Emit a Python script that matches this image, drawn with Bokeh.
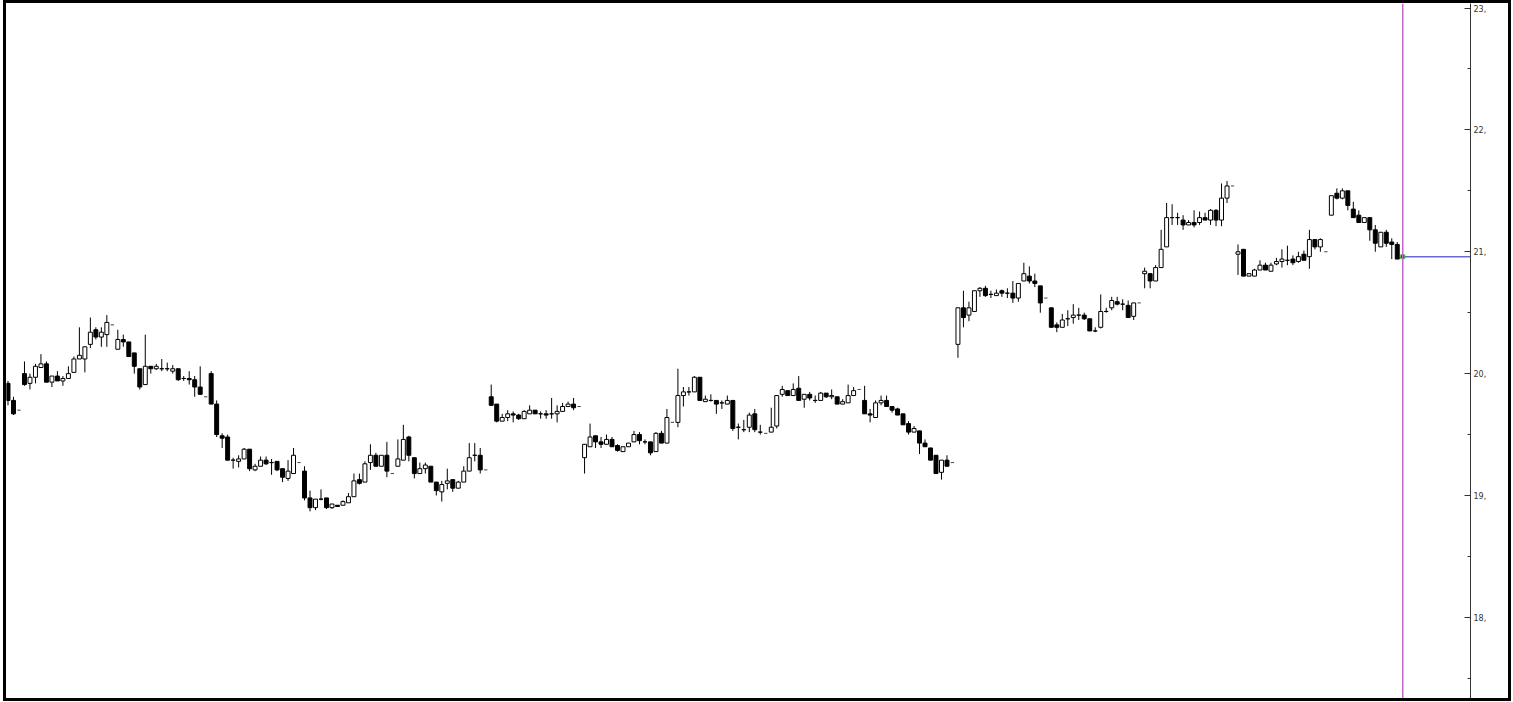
from bokeh.plotting import figure
from bokeh.models import ColumnDataSource, Range1d, FixedTicker, Span
from bokeh.embed import file_html
from bokeh.resources import INLINE

# ---------------- data ----------------
# bars per trading day (first and last day are partial)
bars_per_day = [2] + [16] * 14 + [14]

open_ = [
    19.92, 19.78,
    20.00, 19.92, 19.97, 20.05, 20.08, 19.93, 19.98, 19.94, 19.96, 20.01, 20.12, 20.12, 20.24, 20.36, 20.30, 20.32,
    20.20, 20.28, 20.26, 20.17, 20.04, 19.91, 20.06, 20.04, 20.04, 20.04, 20.02, 20.04, 19.96, 19.96, 19.95, 19.89,
    20.00, 19.75, 19.49, 19.48, 19.29, 19.28, 19.30, 19.38, 19.21, 19.24, 19.29, 19.27, 19.28, 19.22, 19.14, 19.18,
    19.20, 18.98, 18.90, 18.97, 18.98, 18.90, 18.92, 18.92, 18.94, 18.99, 19.13, 19.11, 19.27, 19.33, 19.24, 19.33,
    19.24, 19.29, 19.48, 19.31, 19.18, 19.22, 19.24, 19.11, 19.03, 19.10, 19.13, 19.06, 19.11, 19.20, 19.33, 19.33,
    19.81, 19.75, 19.61, 19.64, 19.67, 19.66, 19.63, 19.67, 19.70, 19.67, 19.67, 19.67, 19.67, 19.69, 19.73, 19.75,
    19.31, 19.40, 19.49, 19.44, 19.42, 19.46, 19.41, 19.36, 19.40, 19.44, 19.50, 19.44, 19.44, 19.36, 19.51, 19.43,
    19.60, 19.82, 19.85, 19.85, 19.97, 19.77, 19.78, 19.78, 19.76, 19.75, 19.78, 19.56, 19.54, 19.56, 19.67, 19.52,
    19.52, 19.57, 19.83, 19.86, 19.82, 19.88, 19.79, 19.83, 19.78, 19.78, 19.84, 19.81, 19.81, 19.75, 19.76, 19.82,
    19.78, 19.67, 19.64, 19.76, 19.78, 19.73, 19.71, 19.67, 19.59, 19.52, 19.53, 19.43, 19.39, 19.33, 19.19, 19.29,
    20.24, 20.54, 20.48, 20.51, 20.68, 20.70, 20.65, 20.64, 20.68, 20.66, 20.66, 20.62, 20.76, 20.80, 20.76, 20.72,
    20.54, 20.40, 20.38, 20.45, 20.46, 20.48, 20.48, 20.45, 20.35, 20.38, 20.51, 20.54, 20.59, 20.57, 20.56, 20.47,
    20.82, 20.82, 20.76, 20.87, 21.04, 21.28, 21.28, 21.26, 21.22, 21.24, 21.24, 21.28, 21.26, 21.34, 21.26, 21.44,
    20.98, 21.02, 20.80, 20.80, 20.85, 20.89, 20.84, 20.90, 20.92, 20.93, 20.94, 20.92, 20.98, 20.96, 21.10, 21.04,
    21.30, 21.48, 21.44, 21.50, 21.35, 21.30, 21.24, 21.28, 21.18, 21.04, 21.16, 21.08, 21.06, 20.95,
]
high = [
    19.94, 19.81,
    20.10, 20.00, 20.08, 20.16, 20.10, 19.98, 20.02, 19.98, 20.06, 20.14, 20.38, 20.22, 20.46, 20.38, 20.38, 20.48,
    20.36, 20.32, 20.26, 20.17, 20.04, 20.32, 20.06, 20.08, 20.12, 20.09, 20.07, 20.04, 19.98, 20.02, 19.98, 20.06,
    20.02, 19.78, 19.51, 19.50, 19.31, 19.33, 19.39, 19.38, 19.26, 19.32, 19.32, 19.30, 19.28, 19.22, 19.29, 19.39,
    19.24, 19.04, 18.97, 19.05, 18.98, 18.93, 18.92, 18.96, 19.02, 19.18, 19.18, 19.28, 19.42, 19.35, 19.33, 19.44,
    19.46, 19.58, 19.49, 19.31, 19.27, 19.27, 19.24, 19.11, 19.12, 19.22, 19.13, 19.12, 19.24, 19.43, 19.43, 19.39,
    19.91, 19.75, 19.67, 19.70, 19.69, 19.67, 19.70, 19.74, 19.70, 19.69, 19.70, 19.80, 19.74, 19.76, 19.77, 19.80,
    19.42, 19.59, 19.49, 19.48, 19.50, 19.48, 19.42, 19.40, 19.43, 19.53, 19.52, 19.46, 19.44, 19.52, 19.53, 19.71,
    20.04, 19.89, 19.89, 19.98, 19.97, 19.82, 19.83, 19.78, 19.78, 19.82, 19.78, 19.59, 19.62, 19.68, 19.71, 19.58,
    19.72, 19.82, 19.90, 19.86, 19.92, 19.98, 19.83, 19.85, 19.82, 19.85, 19.84, 19.87, 19.81, 19.79, 19.91, 19.89,
    19.90, 19.71, 19.78, 19.82, 19.82, 19.73, 19.72, 19.67, 19.61, 19.57, 19.53, 19.46, 19.39, 19.33, 19.29, 19.33,
    20.54, 20.68, 20.59, 20.68, 20.71, 20.72, 20.68, 20.69, 20.69, 20.70, 20.76, 20.74, 20.91, 20.88, 20.82, 20.72,
    20.54, 20.42, 20.49, 20.52, 20.57, 20.54, 20.50, 20.45, 20.38, 20.65, 20.54, 20.63, 20.63, 20.61, 20.60, 20.58,
    20.87, 20.82, 20.89, 21.18, 21.40, 21.39, 21.32, 21.30, 21.26, 21.34, 21.33, 21.32, 21.35, 21.35, 21.56, 21.58,
    21.06, 21.02, 20.82, 20.86, 20.93, 20.91, 20.91, 20.95, 21.02, 21.05, 20.97, 21.00, 21.01, 21.18, 21.10, 21.11,
    21.46, 21.52, 21.52, 21.50, 21.41, 21.34, 21.28, 21.28, 21.22, 21.16, 21.18, 21.11, 21.08, 20.97,
]
low = [
    19.74, 19.66,
    19.90, 19.87, 19.92, 20.05, 19.93, 19.89, 19.94, 19.90, 19.96, 20.01, 20.12, 20.01, 20.21, 20.28, 20.22, 20.22,
    20.20, 20.22, 20.14, 20.00, 19.87, 19.91, 20.00, 20.03, 20.02, 20.02, 20.00, 19.94, 19.94, 19.91, 19.81, 19.83,
    19.75, 19.48, 19.39, 19.29, 19.22, 19.23, 19.30, 19.20, 19.20, 19.24, 19.25, 19.17, 19.20, 19.11, 19.12, 19.18,
    18.96, 18.87, 18.88, 18.96, 18.89, 18.89, 18.91, 18.92, 18.94, 18.99, 19.09, 19.11, 19.21, 19.24, 19.24, 19.15,
    19.24, 19.29, 19.28, 19.14, 19.18, 19.18, 19.11, 19.00, 18.95, 19.05, 19.03, 19.06, 19.11, 19.20, 19.28, 19.18,
    19.74, 19.60, 19.61, 19.61, 19.60, 19.62, 19.63, 19.67, 19.67, 19.63, 19.63, 19.63, 19.60, 19.69, 19.73, 19.70,
    19.18, 19.40, 19.39, 19.39, 19.42, 19.40, 19.36, 19.36, 19.40, 19.44, 19.42, 19.42, 19.33, 19.36, 19.43, 19.43,
    19.56, 19.73, 19.82, 19.85, 19.78, 19.77, 19.77, 19.67, 19.71, 19.75, 19.53, 19.46, 19.52, 19.52, 19.52, 19.50,
    19.52, 19.55, 19.81, 19.82, 19.82, 19.78, 19.72, 19.78, 19.76, 19.78, 19.80, 19.79, 19.75, 19.75, 19.76, 19.82,
    19.67, 19.60, 19.64, 19.74, 19.73, 19.68, 19.66, 19.58, 19.50, 19.52, 19.34, 19.40, 19.29, 19.18, 19.13, 19.24,
    20.13, 20.38, 20.43, 20.51, 20.63, 20.63, 20.62, 20.64, 20.63, 20.62, 20.58, 20.59, 20.76, 20.74, 20.71, 20.50,
    20.38, 20.34, 20.38, 20.39, 20.41, 20.44, 20.44, 20.35, 20.34, 20.37, 20.50, 20.52, 20.56, 20.52, 20.46, 20.44,
    20.70, 20.70, 20.76, 20.87, 21.04, 21.22, 21.22, 21.18, 21.22, 21.20, 21.22, 21.26, 21.22, 21.21, 21.21, 21.40,
    20.81, 20.80, 20.80, 20.80, 20.85, 20.85, 20.84, 20.89, 20.87, 20.89, 20.89, 20.91, 20.93, 20.86, 21.02, 21.00,
    21.30, 21.43, 21.43, 21.34, 21.28, 21.24, 21.24, 21.09, 21.00, 21.04, 21.04, 20.94, 20.94, 20.94,
]
close = [
    19.78, 19.67,
    19.91, 19.97, 20.06, 20.08, 19.93, 19.98, 19.94, 19.96, 20.00, 20.12, 20.15, 20.22, 20.34, 20.30, 20.34, 20.42,
    20.28, 20.26, 20.14, 20.06, 19.89, 20.06, 20.04, 20.06, 20.04, 20.04, 20.04, 19.95, 19.96, 19.95, 19.89, 19.83,
    19.75, 19.50, 19.47, 19.29, 19.29, 19.30, 19.38, 19.22, 19.24, 19.29, 19.26, 19.27, 19.21, 19.15, 19.20, 19.33,
    18.98, 18.90, 18.97, 18.97, 18.90, 18.93, 18.91, 18.95, 18.99, 19.12, 19.10, 19.26, 19.33, 19.24, 19.33, 19.20,
    19.30, 19.46, 19.33, 19.18, 19.22, 19.25, 19.11, 19.04, 19.09, 19.12, 19.06, 19.11, 19.20, 19.31, 19.33, 19.21,
    19.74, 19.61, 19.64, 19.67, 19.66, 19.63, 19.69, 19.70, 19.67, 19.67, 19.66, 19.67, 19.69, 19.73, 19.75, 19.72,
    19.42, 19.48, 19.44, 19.42, 19.46, 19.40, 19.37, 19.40, 19.43, 19.50, 19.45, 19.44, 19.35, 19.51, 19.43, 19.64,
    19.82, 19.85, 19.85, 19.97, 19.78, 19.79, 19.78, 19.75, 19.76, 19.78, 19.55, 19.56, 19.54, 19.66, 19.54, 19.52,
    19.56, 19.82, 19.87, 19.82, 19.87, 19.78, 19.83, 19.80, 19.78, 19.84, 19.81, 19.82, 19.75, 19.77, 19.82, 19.86,
    19.67, 19.66, 19.76, 19.78, 19.73, 19.70, 19.66, 19.58, 19.52, 19.55, 19.43, 19.40, 19.29, 19.18, 19.29, 19.24,
    20.54, 20.46, 20.54, 20.68, 20.70, 20.64, 20.65, 20.66, 20.66, 20.66, 20.62, 20.74, 20.82, 20.76, 20.74, 20.58,
    20.38, 20.38, 20.44, 20.45, 20.48, 20.48, 20.45, 20.35, 20.35, 20.51, 20.51, 20.60, 20.57, 20.57, 20.46, 20.58,
    20.84, 20.76, 20.87, 21.02, 21.28, 21.28, 21.28, 21.22, 21.24, 21.22, 21.28, 21.26, 21.34, 21.26, 21.44, 21.54,
    21.00, 20.80, 20.82, 20.85, 20.89, 20.85, 20.89, 20.92, 20.94, 20.93, 20.91, 20.96, 20.93, 21.10, 21.04, 21.10,
    21.46, 21.44, 21.50, 21.38, 21.28, 21.24, 21.28, 21.18, 21.07, 21.16, 21.07, 21.06, 20.94, 20.96,
]
# end-of-day reference price marks (one per completed day)
settle = [19.70, 20.40, 19.81, 19.27, 19.18, 19.21, 19.73, 19.60, 19.51, 19.87, 19.27, 20.62, 20.58, 21.54, 21.00]

price_ticks = [17, 18, 19, 20, 21, 22, 23]
price_labels = ["17,", "18,", "19,", "20,", "21,", "22,", "23,"]
minor_ticks = [17.5, 18.5, 19.5, 20.5, 21.5, 22.5]

# ---------------- layout of bar slots ----------------
xs, dash_x = [], []
s = 0
for n in bars_per_day:
    xs.extend(range(s, s + n))
    s += n
    dash_x.append(s)
    s += 1
dash_x = dash_x[:len(settle)]

top = [max(o, c) for o, c in zip(open_, close)]
bottom = [min(o, c) for o, c in zip(open_, close)]
fill = ["white" if c >= o else "black" for o, c in zip(open_, close)]

src = ColumnDataSource(dict(x=xs, open=open_, high=high, low=low, close=close,
                            top=top, bottom=bottom, fill=fill))

p = figure(width=1502, height=695,
           x_range=Range1d(-0.273, 266.34), y_range=Range1d(17.285, 23.037),
           output_backend="svg", toolbar_location=None,
           x_axis_location=None, y_axis_location="right",
           min_border_left=0, min_border_top=0, min_border_bottom=0, min_border_right=44)
p.styles = {"border": "3px solid black", "margin-left": "3px",
            "box-sizing": "content-box", "overflow": "hidden"}
p.outline_line_color = None
p.grid.visible = False
p.background_fill_color = "white"
p.border_fill_color = "white"

p.segment(x0="x", y0="high", x1="x", y1="low", source=src, line_color="black", line_width=1)
p.vbar(x="x", width=0.72, top="top", bottom="bottom", source=src,
       fill_color="fill", line_color="black", line_width=1)

p.segment(x0=[d - 0.3 for d in dash_x], y0=settle, x1=[d + 0.3 for d in dash_x], y1=settle,
          line_color="#444444", line_width=1)

last_x = xs[-1]
last_close = close[-1]
p.add_layout(Span(location=last_x, dimension="height", line_color="#c266c8", line_width=1.5))
p.ray(x=[last_x], y=[last_close], length=0, angle=0, line_color="#6a6ad2", line_width=1.5)
p.scatter(x=[last_x], y=[last_close], marker="square", size=4,
          fill_color="#333333", line_color="#44cc44")

ax = p.yaxis[0]
ax.ticker = FixedTicker(ticks=price_ticks, minor_ticks=minor_ticks)
ax.major_label_overrides = {t: l for t, l in zip(price_ticks, price_labels)}
ax.major_tick_in = 6
ax.major_tick_out = 0
ax.minor_tick_in = 3
ax.minor_tick_out = 0
ax.axis_line_color = "#333333"
ax.major_tick_line_color = "#333333"
ax.minor_tick_line_color = "#333333"
ax.major_label_text_font = "DejaVu Sans"
ax.major_label_text_font_size = "8px"
ax.major_label_text_color = "#333333"
ax.major_label_standoff = 3

open("out.html", "w").write(file_html(p, INLINE))
